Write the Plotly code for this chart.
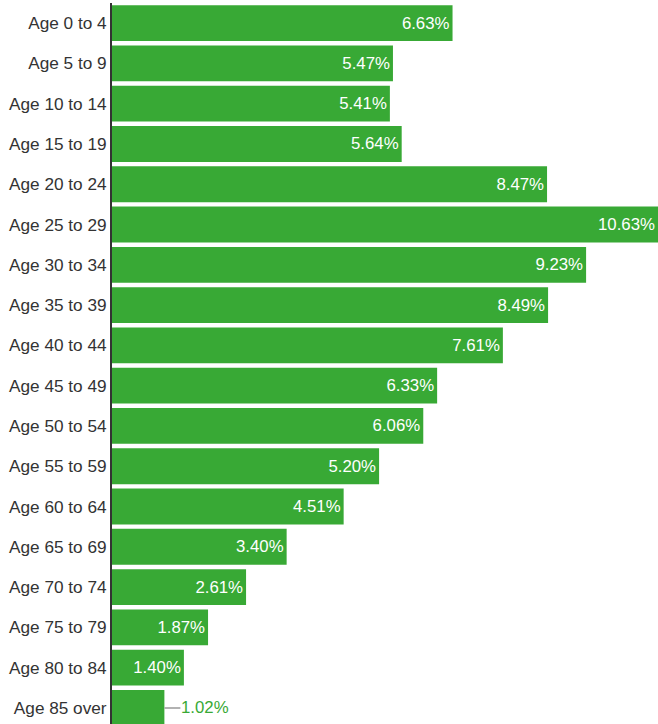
import plotly.graph_objects as go

categories = ["Age 0 to 4", "Age 5 to 9", "Age 10 to 14", "Age 15 to 19", "Age 20 to 24",
              "Age 25 to 29", "Age 30 to 34", "Age 35 to 39", "Age 40 to 44", "Age 45 to 49",
              "Age 50 to 54", "Age 55 to 59", "Age 60 to 64", "Age 65 to 69", "Age 70 to 74",
              "Age 75 to 79", "Age 80 to 84", "Age 85 over"]
values = [6.63, 5.47, 5.41, 5.64, 8.47, 10.63, 9.23, 8.49, 7.61, 6.33, 6.06, 5.20, 4.51,
          3.40, 2.61, 1.87, 1.40, 1.02]

GREEN = "#38a935"
FONT = "Liberation Sans, Arial, sans-serif"
threshold = 1.2

inside_text = [f"{v:.2f}%" if v >= threshold else "" for v in values]

fig = go.Figure(go.Bar(
    x=values, y=categories, orientation="h",
    marker=dict(color=GREEN, line=dict(width=0)),
    text=inside_text, textposition="inside", insidetextanchor="end",
    textfont=dict(color="white", size=16.8, family=FONT),
    cliponaxis=False, hoverinfo="skip",
))

for c, v in zip(categories, values):
    if v < threshold:
        fig.add_annotation(
            x=v, y=c, xref="x", yref="y", text=f"{v:.2f}%",
            showarrow=True, arrowhead=0, arrowwidth=1.5, arrowcolor="#999999",
            ax=16, ay=0, xanchor="left", standoff=0, borderpad=0,
            font=dict(color=GREEN, size=16.8, family=FONT),
        )

fig.update_layout(
    width=658, height=724,
    margin=dict(l=112, r=0, t=3, b=0),
    paper_bgcolor="white", plot_bgcolor="white",
    bargap=0.11, showlegend=False,
    xaxis=dict(range=[0, max(values)], visible=False, fixedrange=True),
    yaxis=dict(categoryorder="array", categoryarray=categories,
               range=[17.4, -0.5], showline=True, linecolor="#333333", linewidth=2,
               ticks="", showgrid=False, ticklabelstandoff=0, fixedrange=True,
               tickfont=dict(color="#333333", size=17.2, family=FONT)),
    font=dict(family=FONT),
)

fig.write_html("out.html", config={"displayModeBar": False, "staticPlot": True},
               post_script="document.body.style.margin='0';document.body.style.overflow='hidden';")
